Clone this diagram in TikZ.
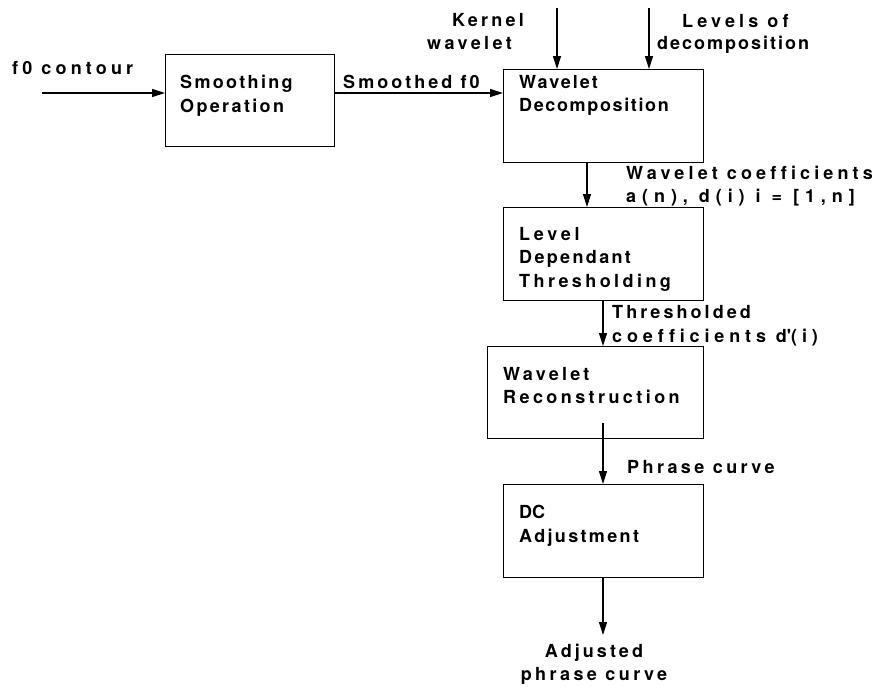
\documentclass[tikz,border=0pt]{standalone}
\usepackage{fontspec}
\setmainfont{TeX Gyre Heros}[Ligatures={NoCommon}]
\usetikzlibrary{arrows.meta}
\newcommand{\ls}[2]{{\addfontfeature{LetterSpace=#1}#2}}
\begin{document}
\begin{tikzpicture}[x=1pt,y=-1pt,
  lbl/.style={font=\fontsize{18}{21}\selectfont\bfseries, inner sep=0pt, anchor=base west},
  box/.style={draw, line width=1.2pt, inner sep=0pt, anchor=north west},
  arr/.style={-{Triangle[length=13pt,width=8pt]}, line width=1.2pt}]
\useasboundingbox (0,0) rectangle (881,686);

% boxes
\node[box, minimum width=169pt, minimum height=92pt] (smooth) at (165,54) {};
\node[box, minimum width=200pt, minimum height=93pt] (wdec) at (503,69) {};
\node[box, minimum width=200pt, minimum height=93pt] (thr) at (503,207) {};
\node[box, minimum width=216pt, minimum height=92pt] (wrec) at (487,346) {};
\node[box, minimum width=200pt, minimum height=93pt] (dc) at (503,484) {};

% box texts
\node[lbl] (t1a) at (180,88) {\ls{13}{Smoothing}};
\node[lbl] (t1b) at (180,112) {\ls{13}{Operation}};
\node[lbl] (t2a) at (519,88) {\ls{11}{Wavelet}};
\node[lbl] (t2b) at (519,111) {\ls{9}{Decomposition}};
\node[lbl] (t3a) at (519,240) {\ls{21}{Level}};
\node[lbl] (t3b) at (519,263) {\ls{13}{Dependant}};
\node[lbl] (t3c) at (519,287) {\ls{19}{Thresholding}};
\node[lbl] (t4a) at (503,380) {\ls{18}{Wavelet}};
\node[lbl] (t4b) at (503,403) {\ls{19}{Reconstruction}};
\node[lbl] (t5a) at (519,518) {DC};
\node[lbl] (t5b) at (519,542) {\ls{13}{Adjustment}};

% outside labels
\node[lbl] (lf0) at (12,74) {\ls{23}{f0 contour}};
\node[lbl] (lsm) at (343,88) {\ls{17}{Smoothed f0}};
\node[lbl] (lk1) at (452,26) {\ls{18}{Kernel}};
\node[lbl] (lk2) at (427,49) {\ls{19}{wavelet}};
\node[lbl] (ll1) at (682,27) {\ls{23}{Levels of}};
\node[lbl] (ll2) at (657,49) {\ls{11}{decomposition}};
\node[lbl] (lw1) at (626,179) {\ls{23}{Wavelet coefficients}};
\node[lbl] (lw2) at (626,202) {\ls{33}{a(n), d(i) i = [1,n]}};
\node[lbl] (lt1) at (612,318) {\ls{17}{Thresholded}};
\node[lbl] (lt2) at (612,342) {\ls{27}{coefficients d\textquotesingle(i)}};
\node[lbl] (lpc) at (627,473) {\ls{19}{Phrase curve}};
\node[lbl, anchor=base] (la1) at (594,657) {\ls{17}{Adjusted}};
\node[lbl, anchor=base] (la2) at (594,680) {\ls{19}{phrase curve}};

% connector end points
\coordinate (in) at (42,93);
\coordinate (kin) at (557,8);
\coordinate (lin) at (649,8);
\coordinate (c1) at (587,0);
\coordinate (c2) at (603,0);
\coordinate (rs) at (603,423);
\coordinate (out) at (603,635);

% connectors
\draw[arr] (in) -- (in -| smooth.west);
\draw[arr] (in -| smooth.east) -- (in -| wdec.west);
\draw[arr] (kin) -- (kin |- wdec.north);
\draw[arr] (lin) -- (lin |- wdec.north);
\draw[arr] (c1 |- wdec.south) -- (c1 |- thr.north);
\draw[arr] (c2 |- thr.south) -- (c2 |- wrec.north);
\draw[arr] (rs) -- (rs |- dc.north);
\draw[arr] (c2 |- dc.south) -- (out);
\end{tikzpicture}
\end{document}
